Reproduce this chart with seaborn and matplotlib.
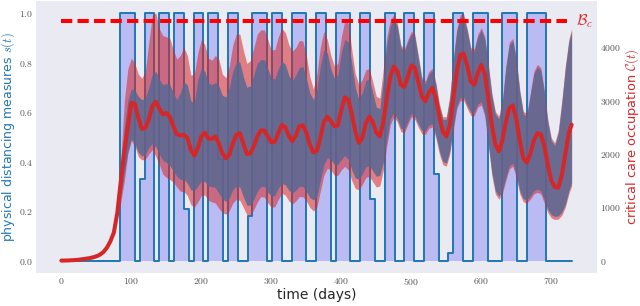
import numpy as np
import matplotlib
matplotlib.use("Agg")
import matplotlib.pyplot as plt
import matplotlib.ticker as mticker
import seaborn as sns

###########################################################################
# physical distancing schedule s(t): (start day, level), held until next day
step_days = [0, 84, 105, 112, 119, 133, 140, 154, 161, 175, 182, 189, 203, 210,
             224, 231, 238, 252, 266, 273, 294, 301, 315, 329, 350, 364, 378,
             385, 392, 413, 427, 441, 448, 462, 476, 490, 504, 518, 532, 539,
             553, 560, 574, 588, 609, 630, 651, 665, 693, 729]
step_vals = [0, 1, 0, 0.33, 1, 0, 1, 0, 1, 0.21, 0, 1, 0, 1,
             0.41, 0, 1, 0, 0.18, 1, 0, 1, 0, 1, 0, 1, 0.57,
             0, 1, 0, 1, 0.25, 0, 1, 0, 1, 0, 1, 0.35, 0,
             0.03, 1, 0, 1, 0, 1, 0, 1, 0, 0]

# critical care occupation, mean trajectory (every 5 days, last point day 729)
mean_days = list(range(0, 730, 5)) + [729]
mean_occ = [0, 1, 3, 6, 10, 16, 25, 34, 45, 60,
            80, 110, 160, 240, 360, 525, 900, 1500, 2050, 2500,
            2960, 2940, 2680, 2470, 2490, 2650, 2900, 2980, 2850, 2740,
            2770, 2700, 2520, 2370, 2350, 2360, 2300, 2080, 1970, 2120,
            2330, 2400, 2290, 2280, 2330, 2200, 2010, 1920, 1990, 2200,
            2360, 2390, 2200, 2000, 2010, 2150, 2330, 2440, 2440, 2330,
            2220, 2230, 2400, 2545, 2500, 2340, 2240, 2350, 2520, 2540,
            2400, 2180, 2030, 2060, 2300, 2600, 2700, 2620, 2520, 2540,
            2830, 3060, 3020, 2750, 2420, 2210, 2300, 2580, 2700, 2600,
            2400, 2330, 2600, 3050, 3450, 3640, 3560, 3300, 3260, 3450,
            3660, 3620, 3350, 3080, 2990, 3150, 3240, 3050, 2700, 2420,
            2330, 2550, 3050, 3550, 3860, 3880, 3650, 3360, 3300, 3520,
            3670, 3500, 3050, 2550, 2180, 2050, 2250, 2600, 2860, 2910,
            2650, 2250, 1920, 1840, 2000, 2250, 2390, 2370, 2150, 1800,
            1500, 1380, 1370, 1600, 2000, 2400, 2550]

# uncertainty bands (outer and inner), from day 80
band_days = list(range(80, 730, 5)) + [729]
outer_hi = [950, 1900, 3000, 3600, 3800, 3700, 3500, 3420, 3550, 4100,
            4600, 4650, 4350, 4220, 4200, 4170, 3950, 3780, 3850, 4000,
            3850, 3480, 3500, 3900, 4150, 4050, 3800, 3760, 3850, 3780,
            3500, 3430, 3650, 4050, 4250, 4250, 3950, 3700, 3750, 4000,
            4250, 4330, 4330, 4150, 3950, 3960, 4200, 4360, 4280, 4050,
            3930, 4000, 4130, 4120, 3850, 3450, 3220, 3500, 4000, 4300,
            4150, 3850, 3650, 3700, 4200, 4500, 4450, 3950, 3500, 3300,
            3400, 3580, 3600, 3350, 3080, 3050, 3600, 4200, 4520, 4610,
            4450, 4050, 3970, 4150, 4300, 4250, 3850, 3450, 3370, 3550,
            3610, 3350, 2950, 2700, 2700, 3100, 3800, 4350, 4620, 4620,
            4350, 4000, 3980, 4250, 4370, 4200, 3700, 3150, 2800, 2710,
            3000, 3650, 4100, 4170, 3800, 3200, 2800, 2760, 3150, 3550,
            3680, 3620, 3200, 2650, 2300, 2210, 2450, 3000, 3650, 4150,
            4350]
outer_lo = [850, 1100, 1500, 2000, 2250, 2150, 1950, 1890, 1900, 2000,
            2080, 1950, 1800, 1620, 1560, 1520, 1470, 1380, 1300, 1300,
            1220, 1050, 1000, 1100, 1220, 1230, 1130, 1100, 1080, 980,
            900, 870, 940, 1080, 1150, 1130, 1000, 860, 850, 960,
            1100, 1200, 1190, 1080, 1000, 1010, 1150, 1260, 1230, 1120,
            1060, 1120, 1200, 1200, 1120, 1000, 930, 1000, 1300, 1600,
            1730, 1700, 1600, 1600, 1700, 1770, 1700, 1500, 1350, 1330,
            1430, 1560, 1580, 1480, 1380, 1400, 1700, 2150, 2550, 2700,
            2600, 2420, 2400, 2550, 2700, 2650, 2500, 2380, 2370, 2480,
            2510, 2300, 2000, 1800, 1770, 2000, 2450, 2850, 3000, 3000,
            2850, 2720, 2720, 2880, 2920, 2700, 2150, 1600, 1250, 1150,
            1250, 1500, 1720, 1770, 1550, 1250, 1100, 1080, 1150, 1250,
            1280, 1250, 1080, 900, 800, 770, 780, 850, 1000, 1250,
            1400]
inner_hi = [920, 1750, 2500, 3000, 3220, 3200, 3080, 3020, 3050, 3250,
            3500, 3550, 3400, 3300, 3320, 3300, 3150, 3020, 3150, 3350,
            3300, 3000, 2950, 3400, 3600, 3550, 3330, 3300, 3340, 3280,
            3100, 3070, 3250, 3550, 3720, 3730, 3450, 3250, 3280, 3480,
            3700, 3770, 3770, 3600, 3420, 3410, 3600, 3740, 3680, 3470,
            3370, 3480, 3620, 3640, 3420, 3150, 3020, 3200, 3650, 3950,
            3900, 3600, 3420, 3480, 3900, 4150, 4100, 3700, 3250, 3020,
            3150, 3380, 3400, 3150, 2880, 2850, 3400, 4050, 4400, 4520,
            4400, 4000, 3920, 4100, 4250, 4200, 3800, 3400, 3320, 3500,
            3560, 3300, 2900, 2650, 2650, 3050, 3750, 4300, 4570, 4570,
            4300, 3950, 3930, 4200, 4320, 4150, 3650, 3100, 2750, 2660,
            2950, 3600, 4050, 4120, 3750, 3150, 2750, 2710, 3100, 3500,
            3630, 3570, 3150, 2600, 2250, 2160, 2400, 2950, 3600, 4100,
            4300]
inner_lo = [870, 1200, 1650, 2050, 2280, 2200, 2030, 1960, 1990, 2120,
            2200, 2130, 2000, 1880, 1840, 1780, 1680, 1580, 1520, 1530,
            1450, 1330, 1310, 1400, 1490, 1480, 1400, 1390, 1370, 1260,
            1160, 1110, 1180, 1330, 1400, 1380, 1200, 1040, 1040, 1150,
            1300, 1390, 1390, 1280, 1210, 1220, 1360, 1450, 1420, 1320,
            1270, 1320, 1390, 1390, 1300, 1180, 1140, 1200, 1500, 1800,
            1930, 1900, 1800, 1800, 1900, 1970, 1900, 1700, 1550, 1530,
            1630, 1760, 1780, 1680, 1580, 1600, 1850, 2280, 2660, 2780,
            2660, 2480, 2460, 2610, 2760, 2710, 2560, 2440, 2430, 2540,
            2570, 2360, 2060, 1860, 1830, 2060, 2510, 2910, 3060, 3060,
            2910, 2780, 2780, 2940, 2980, 2760, 2210, 1660, 1310, 1210,
            1310, 1560, 1780, 1830, 1610, 1310, 1160, 1140, 1210, 1310,
            1340, 1310, 1140, 960, 860, 830, 840, 910, 1060, 1310,
            1460]

# critical care capacity B_c and the days it is drawn over
bc_capacity = 4500
bc_days = [0, 722]

###########################################################################
sns.set_style("dark")
plt.rcParams["mathtext.fontset"] = "cm"

fig, ax = plt.subplots(figsize=(6.4, 3.06), dpi=100)
fig.subplots_adjust(left=0.056, right=0.933, bottom=0.108, top=0.997)

ax.fill_between(step_days, step_vals, step="post", color="blue", alpha=0.2, lw=0)
ax.plot(step_days, step_vals, drawstyle="steps-post", color="#1f77b4", lw=1.4)
ax.set_ylabel(r"physical distancing measures $s(t)$", color="#1f77b4", fontsize=9)
ax.yaxis.set_label_coords(-0.033, 0.5)
ax.set_xlabel("time (days)", fontsize=10, color=".15", labelpad=1)

ax2 = ax.twinx()
ax2.grid(False)
ax2.fill_between(band_days, outer_lo, outer_hi, color="#d62728", alpha=0.55, lw=0)
ax2.fill_between(band_days, inner_lo, inner_hi, color="#576894", alpha=0.85, lw=0)
ax2.plot(mean_days, mean_occ, color="#d62728", lw=2.9)
ax2.hlines(bc_capacity, bc_days[0], bc_days[1], colors="red", lw=2.9,
           linestyles=(0, (2.8, 1.3)))
ax2.annotate(r"$\mathcal{B}_c$", xy=(bc_days[1], bc_capacity), xytext=(7, 0),
             textcoords="offset points", va="center", ha="left",
             color="#d62728", fontsize=11)
ax2.set_ylabel(r"critical care occupation $\mathcal{C}(t)$", color="#d62728", fontsize=9.3)
ax2.yaxis.set_label_coords(1.047, 0.5)
ax2.set_ylim(-0.05 * 4640, 1.05 * 4640)
ax2.set_yticks([0, 1000, 2000, 3000, 4000])

ax.set_xlim(-36.45, 765.45)
ax.set_ylim(-0.05, 1.05)

ax.xaxis.set_major_formatter(mticker.FuncFormatter(lambda v, p: rf"${v:.0f}$"))
ax.yaxis.set_major_formatter(mticker.FuncFormatter(lambda v, p: rf"${v:.1f}$"))
ax2.yaxis.set_major_formatter(mticker.FuncFormatter(lambda v, p: rf"${v:.0f}$"))
for a in (ax, ax2):
    a.tick_params(labelsize=7, labelcolor="#555555", pad=2, length=0)
    for s in a.spines.values():
        s.set_visible(False)

plt.savefig("out.png", dpi=100)
plt.close()
